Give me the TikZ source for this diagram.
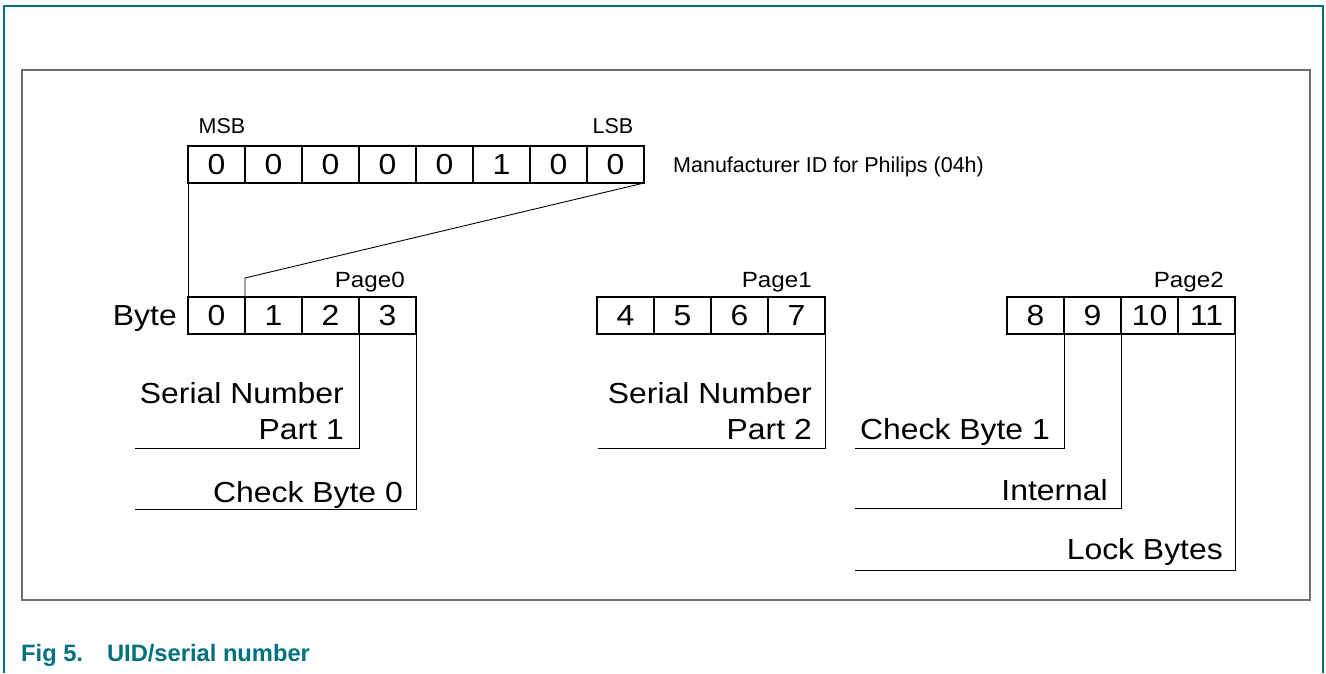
\documentclass[tikz,border=0pt]{standalone}
\usepackage{fontspec}
\setmainfont{Liberation Sans}
\newfontfamily\widefont[FakeStretch=1.1]{Liberation Sans}
\usepackage{tikz}
\usetikzlibrary{positioning}
\definecolor{figteal}{RGB}{0,112,127}
\definecolor{framegray}{RGB}{110,110,110}
\tikzstyle{cell}=[draw, line width=1.6pt, minimum width=57pt, minimum height=37pt, inner sep=0pt, outer sep=0pt, font=\widefont\fontsize{29}{34}\selectfont]
\tikzstyle{small}=[inner sep=0pt, font=\fontsize{21.5}{24}\selectfont]
\tikzstyle{pagelbl}=[inner sep=0pt, anchor=base east, font=\widefont\fontsize{22}{26}\selectfont]
\tikzstyle{field}=[inner sep=0pt, anchor=base east, align=right, font=\widefont\fontsize{29}{36}\selectfont]
\tikzstyle{link}=[line width=0.9pt]

\begin{document}
\begin{tikzpicture}[x=1pt, y=-1pt]
\useasboundingbox (0,0) rectangle (1326,673);
% frames
\draw[figteal, line width=1.5pt] (4,673) -- (4,6) -- (1323,6) -- (1323,673);
\draw[framegray, line width=1.5pt] (22,70) rectangle (1310,600);
\node[anchor=base west, inner sep=0pt, text=figteal, font=\bfseries\fontsize{23.7}{26}\selectfont] (cap) at (21,661) {Fig 5.\hspace{24pt}UID/serial number};
% manufacturer byte
\node[cell] (bit0) at (216.5,164.5) {0};
\foreach \v [count=\i] in {0,0,0,0,1,0,0} {
  \pgfmathtruncatemacro\j{\i-1}
  \node[cell, right=0pt of bit\j] (bit\i) {\v};
}
\node[small, anchor=base] (msb) at (222,133) {MSB};
\node[small, anchor=base] (lsb) at (613,133) {LSB};
\node[small, anchor=base west] (mid) at (673,172) {Manufacturer ID for Philips (04h)};
% pages
\node[cell] (byte0) at (216.5,315.5) {0};
\node[cell] (byte4) at (625.5,315.5) {4};
\node[cell] (byte8) at (1035.5,315.5) {8};
\foreach \p in {0,4,8} {
  \foreach \k in {1,2,3} {
    \pgfmathtruncatemacro\i{\p+\k}
    \pgfmathtruncatemacro\j{\i-1}
    \node[cell, right=0pt of byte\j] (byte\i) {\i};
  }
}
\node[field, anchor=base east] (bytelbl) at (177,325) {Byte};
\node[pagelbl] (page0) at (405,287) {Page0};
\node[pagelbl] (page1) at (812,287) {Page1};
\node[pagelbl] (page2) at (1224,287) {Page2};
% byte fields (base = last line)
\node[field] (sn1) at (344,439) {Serial Number\\Part 1};
\node[field] (cb0) at (403,502) {Check Byte 0};
\node[field] (sn2) at (812,439) {Serial Number\\Part 2};
\node[field] (cb1) at (1050,439) {Check Byte 1};
\node[field] (intl) at (1108,500) {Internal};
\node[field] (lock) at (1223,559) {Lock Bytes};
\coordinate (sn1end) at (135,448);
\coordinate (cb0end) at (135,509);
\coordinate (sn2end) at (598,448);
\coordinate (cb1end) at (855,448);
\coordinate (intlend) at (855,508);
\coordinate (lockend) at (855,570);
% connectors
\draw[link] (bit0.south west) -- (byte0.north west);
\draw[link] (bit7.south east) -- ([yshift=19pt]byte1.north west) -- (byte1.north west);
\draw[link] (byte2.south east) |- (sn1end);
\draw[link] (byte3.south east) |- (cb0end);
\draw[link] (byte7.south east) |- (sn2end);
\draw[link] (byte8.south east) |- (cb1end);
\draw[link] (byte9.south east) |- (intlend);
\draw[link] (byte11.south east) |- (lockend);
\end{tikzpicture}
\end{document}
